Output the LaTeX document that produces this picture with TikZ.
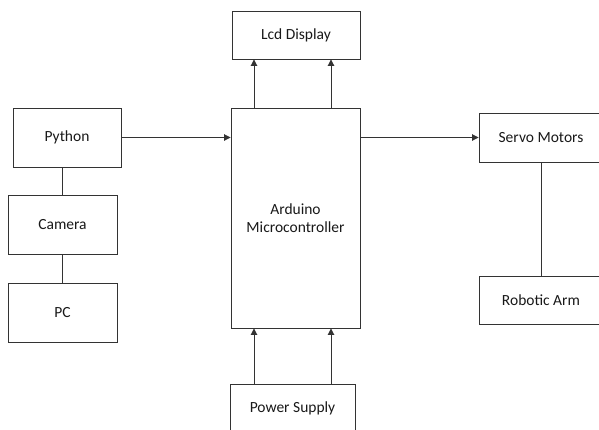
\documentclass[tikz,border=0pt]{standalone}
\usepackage{fontspec}
\setmainfont{Carlito}
\usetikzlibrary{arrows.meta,positioning}

\begin{document}
\begin{tikzpicture}[
  x=1pt, y=-1pt,
  >={Triangle[length=6.5pt,width=6.5pt]},
  edge/.style={->, line width=.9pt, draw=black!80},
  link/.style={-, line width=.9pt, draw=black!80},
  block/.style={draw=black!80, line width=.9pt, fill=white, align=center,
                inner sep=2pt, font=\fontsize{15.5}{18}\selectfont, text=black!90}
]
\clip (0,0) rectangle (599,429);
\fill[white] (0,0) rectangle (599,429);

% ---------- left column ----------
\node[block, minimum width=108pt, minimum height=59pt] (python) at (67,137.5)  {Python};
\node[block, minimum width=109pt, minimum height=59pt] (camera) at (62.5,224.5) {Camera};
\node[block, minimum width=109pt, minimum height=59pt] (pc)     at (62.5,312.5) {PC};

% ---------- middle column ----------
\node[block, minimum width=128pt, minimum height=48pt]  (lcd)     at (296,35)    {Lcd Display};
\node[block, minimum width=129pt, minimum height=220pt] (arduino) at (295.5,218) {Arduino\\Microcontroller};
\node[block, minimum width=125pt, minimum height=48pt]  (power)   at (292.5,408) {Power Supply};

% ---------- right column ----------
\node[block, minimum width=124pt, minimum height=49pt] (servo) at (541,137.5) {Servo Motors};
\node[block, minimum width=124pt, minimum height=48pt] (arm)   at (541,300)   {Robotic Arm};

% ---------- edges ----------
\draw[link] (camera.north) -- (camera.north |- python.south);
\draw[link] (pc.north) -- (camera.south);
\draw[edge] (python.east) -- (python.east -| arduino.west);
\draw[edge] (arduino.east |- servo.west) -- (servo.west);
\draw[link] (servo.south) -- (arm.north);
\draw[edge] ([xshift=-41.5pt]arduino.north) -- ([xshift=-41.5pt]arduino.north |- lcd.south);
\draw[edge] ([xshift=35.5pt]arduino.north) -- ([xshift=35.5pt]arduino.north |- lcd.south);
\draw[edge] ([xshift=-38.5pt]power.north) -- ([xshift=-38.5pt]power.north |- arduino.south);
\draw[edge] ([xshift=38.5pt]power.north) -- ([xshift=38.5pt]power.north |- arduino.south);

\end{tikzpicture}
\end{document}
